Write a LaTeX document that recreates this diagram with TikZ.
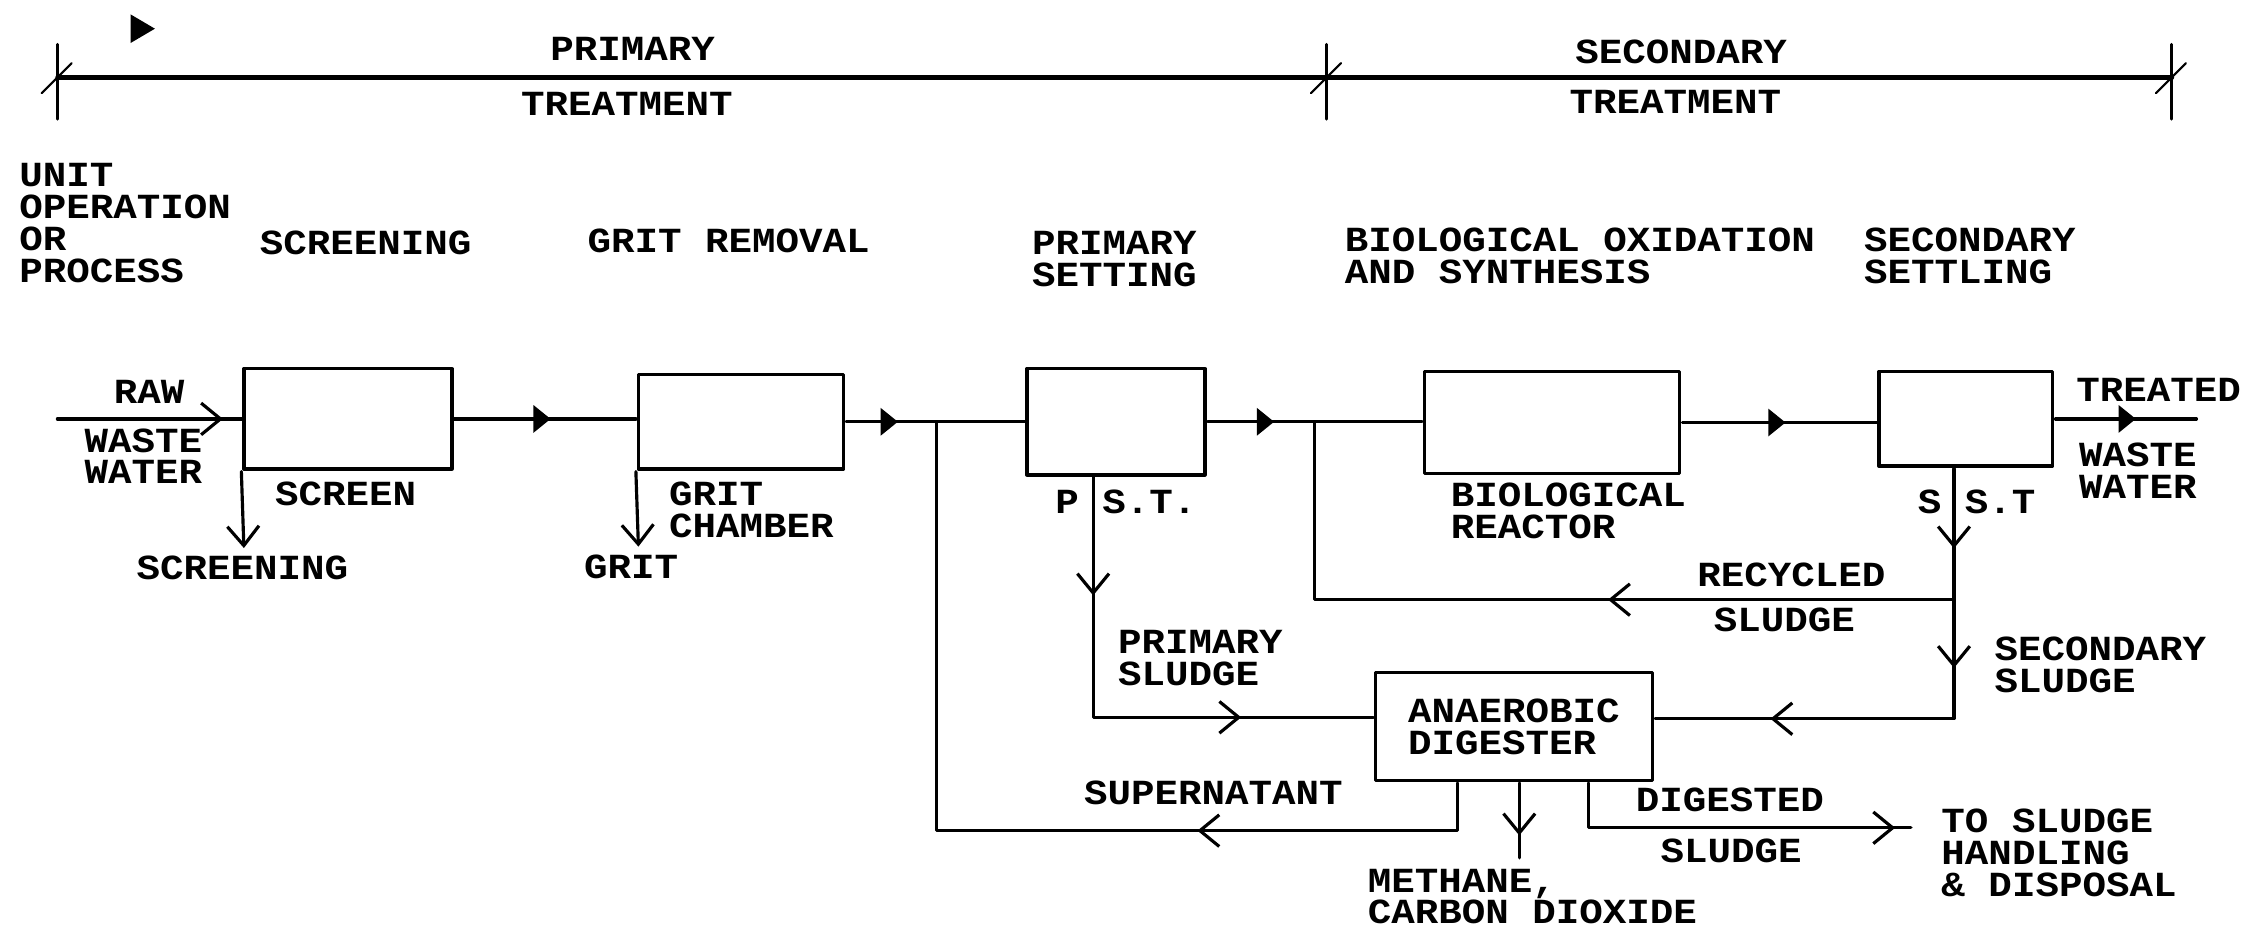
\documentclass[tikz,border=0pt]{standalone}
\usepackage{fontspec}
\setmainfont{Liberation Mono}[FakeStretch=1.11]
\usepackage{tikz}
\usetikzlibrary{arrows.meta,decorations.markings}

\begin{document}
\begin{tikzpicture}[
						scale=1.4343,
						every node/.style={font=\fontsize{7.0}{6.3}\selectfont\bfseries, transform shape, inner sep=0pt},
						line cap=round,
						line join=round,
						line width=0.9pt,
						ftri/.tip={Triangle[length=4.9pt,width=7.7pt]},
						obarb/.tip={Straight Barb[length=5.5pt,width=9pt]},
						unitbox/.style={draw, rectangle, line width=1pt},
						fillmid/.style={postaction={decorate, decoration={markings, mark=at position #1 with {\arrow{ftri}}}}},
						openmid/.style={postaction={decorate, decoration={markings, mark=at position #1 with {\arrow{obarb}}}}}
						]
						
						\useasboundingbox (0,0) rectangle (15.68,-6.48);
						
						% Treatment bar
						\coordinate (barl) at (0.40,-0.54);
						\coordinate (barm) at (9.25,-0.54);
						\coordinate (barr) at (15.14,-0.54);
						\draw[line width=1.2pt] (barl) -- (barr);
						\draw (0.40,-0.31) -- (0.40,-0.83);
						\draw (9.25,-0.31) -- (9.25,-0.83);
						\draw (15.14,-0.31) -- (15.14,-0.83);
						\draw[line width=0.6pt] (0.29,-0.65) -- (0.50,-0.44);
						\draw[line width=0.6pt] (9.14,-0.65) -- (9.35,-0.44);
						\draw[line width=0.6pt] (15.03,-0.65) -- (15.24,-0.44);
						\fill (0.91,-0.10) -- (1.08,-0.20) -- (0.91,-0.30) -- cycle;
						
						\node (primtop) at (4.41,-0.34) {PRIMARY};
						\node (primtrt) at (4.37,-0.725) {TREATMENT};
						\node (sectop) at (11.72,-0.36) {SECONDARY};
						\node (sectrt) at (11.68,-0.71) {TREATMENT};
						
						% Column headers
						\node[anchor=west, align=left] (unitop) at (0.12,-1.555) {UNIT\\OPERATION\\OR\\PROCESS};
						\node (screening) at (2.55,-1.69) {SCREENING};
						\node (gritrem) at (5.08,-1.68) {GRIT REMOVAL};
						\node[anchor=west, align=left] (primset) at (7.18,-1.805) {PRIMARY\\SETTING};
						\node[anchor=west, align=left] (biooxid) at (9.36,-1.785) {BIOLOGICAL OXIDATION\\AND SYNTHESIS};
						\node[anchor=west, align=left] (secset) at (12.98,-1.785) {SECONDARY\\SETTLING};
						
						% Units
						\node[unitbox, minimum width=1.45cm, minimum height=0.70cm] (screen) at (2.425,-2.92) {};
						\node[unitbox, minimum width=1.43cm, minimum height=0.66cm] (grit) at (5.165,-2.94) {};
						\node[unitbox, minimum width=1.24cm, minimum height=0.74cm] (pst) at (7.78,-2.94) {};
						\node[unitbox, minimum width=1.78cm, minimum height=0.71cm] (bio) at (10.82,-2.945) {};
						\node[unitbox, minimum width=1.21cm, minimum height=0.66cm] (sst) at (13.705,-2.92) {};
						\node[unitbox, minimum width=1.93cm, minimum height=0.75cm, align=left] (digester) at (10.555,-5.065) {ANAEROBIC\\DIGESTER};
						
						% Free ends and bends
						\coordinate (rawin) at (0.40,-2.92);
						\coordinate (scrend) at (1.70,-3.82);
						\coordinate (gritend) at (4.45,-3.81);
						\coordinate (jgrit) at (6.53,-2.94);
						\coordinate (jpst) at (9.16,-2.94);
						\coordinate (trtout) at (15.31,-2.92);
						\coordinate (pstbend) at (7.62,-5.00);
						\coordinate (sstbend) at (13.62,-5.01);
						\coordinate (recyc) at (13.62,-4.18);
						\coordinate (supbend) at (10.16,-5.79);
						\coordinate (methend) at (10.59,-5.98);
						\coordinate (digbend) at (11.07,-5.77);
						\coordinate (digend) at (13.32,-5.77);
						
						% Main flow
						\draw[openmid=0.90] (rawin) -- (screen.west);
						\draw[fillmid=0.53] (screen.east) -- (screen.east -| grit.west);
						\draw[fillmid=0.29] (grit.east) -- (grit.east -| pst.west);
						\draw[fillmid=0.31] (pst.east) -- (pst.east -| bio.west);
						\draw[fillmid=0.53] (bio.east) -- (bio.east -| sst.west);
						\draw[fillmid=0.57] (sst.east) -- (trtout);
						\draw[-{obarb}] (screen.south west) -- (scrend);
						\draw[-{obarb}] (grit.south west) -- (gritend);
						
						% Sludge lines
						\draw[openmid=0.227, openmid=0.746] (pst.south -| pstbend) -- (pstbend) -- (pstbend -| digester.west);
						\draw[openmid=0.145, openmid=0.363, openmid=0.79] (sst.south -| sstbend) -- (sstbend) -- (sstbend -| digester.east);
						\draw[openmid=0.423] (recyc) -- (recyc -| jpst) -- (jpst);
						\draw[openmid=0.315] (digester.south -| supbend) -- (supbend) -- (supbend -| jgrit) -- (jgrit);
						\draw[openmid=0.70] (digester.south -| methend) -- (methend);
						\draw[openmid=0.957] (digester.south -| digbend) -- (digbend) -- (digend);
						
						% Flow labels
						\node (rawlbl) at (1.04,-2.73) {RAW};
						\node[align=center] (wwin) at (1.00,-3.18) {WASTE\\WATER};
						\node (scrlbl) at (2.41,-3.44) {SCREEN};
						\node (scrout) at (1.69,-3.96) {SCREENING};
						\node (gritout) at (4.40,-3.95) {GRIT};
						\node[anchor=west, align=left] (gritlbl) at (4.65,-3.555) {GRIT\\CHAMBER};
						\node (pstlbl) at (7.85,-3.50) {P S.T.};
						\node[anchor=west, align=left] (biolbl) at (10.10,-3.56) {BIOLOGICAL\\REACTOR};
						\node (sstlbl) at (13.78,-3.50) {S S.T};
						\node (trtlbl) at (15.05,-2.72) {TREATED};
						\node[anchor=west, align=left] (wwout) at (14.48,-3.28) {WASTE\\WATER};
						\node (recyclbl) at (12.49,-4.01) {RECYCLED};
						\node (recsllbl) at (12.44,-4.32) {SLUDGE};
						\node[anchor=west, align=left] (secsl) at (13.89,-4.635) {SECONDARY\\SLUDGE};
						\node[anchor=west, align=left] (primsl) at (7.78,-4.59) {PRIMARY\\SLUDGE};
						\node (supern) at (8.46,-5.53) {SUPERNATANT};
						\node[anchor=west, align=left] (methane) at (9.52,-6.25) {METHANE,\\CARBON DIOXIDE};
						\node (diglbl) at (12.06,-5.58) {DIGESTED};
						\node (digsllbl) at (12.07,-5.93) {SLUDGE};
						\node[anchor=west, align=left] (tosludge) at (13.52,-5.945) {TO SLUDGE\\HANDLING\\\& DISPOSAL};
						
					\end{tikzpicture}
\end{document}
